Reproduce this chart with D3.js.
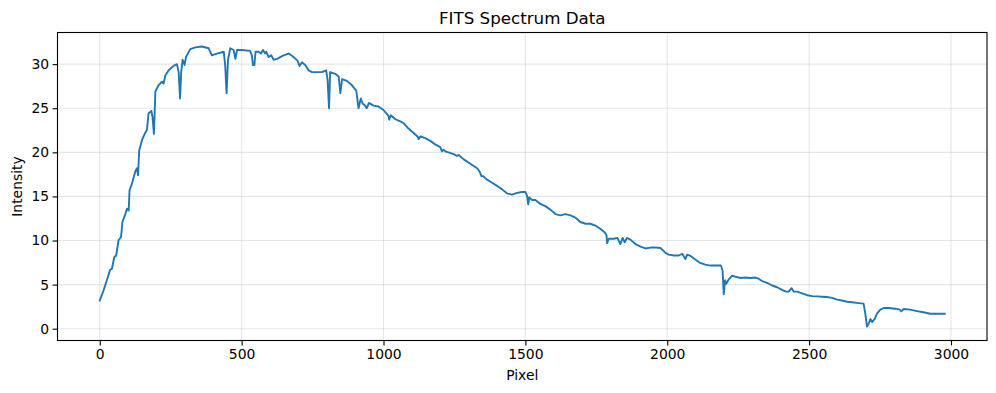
<!DOCTYPE html>
<html>
<head>
<meta charset="utf-8">
<script src="https://cdn.jsdelivr.net/npm/d3@7"></script>
<style>
  html, body { margin: 0; padding: 0; background: #fff; }
  text { font-family: 'DejaVu Sans', sans-serif; fill: #000; }
</style>
</head>
<body>
<div id="chart"></div>
<script>
// values
const pixels = [
  0, 13, 25, 37, 43, 51, 58, 66, 75, 80, 90, 96, 102, 105, 113, 125, 131, 135, 139, 149,
  160, 166, 172, 182, 186, 191, 196, 207, 219, 225, 231, 243, 260, 272, 278, 283, 287, 292, 299, 304,
  319, 337, 360, 384, 395, 413, 437, 442, 447, 452, 460, 472, 478, 484, 501, 530, 536, 540, 545, 549,
  560, 568, 575, 583, 587, 595, 604, 613, 625, 636, 648, 666, 683, 697, 704, 713, 724, 736, 748, 765,
  783, 798, 803, 808, 812, 830, 842, 848, 854, 871, 889, 904, 912, 920, 927, 935, 941, 949, 965, 982,
  1000, 1018, 1020, 1026, 1042, 1059, 1071, 1088, 1106, 1120, 1124, 1130, 1147, 1165, 1182, 1200, 1206, 1212, 1218, 1229,
  1247, 1259, 1265, 1283, 1306, 1330, 1339, 1345, 1351, 1365, 1383, 1400, 1418, 1435, 1453, 1471, 1488, 1500, 1506, 1510,
  1514, 1523, 1535, 1553, 1570, 1588, 1606, 1623, 1641, 1659, 1676, 1694, 1712, 1729, 1747, 1765, 1780, 1786, 1788, 1794,
  1812, 1824, 1835, 1843, 1850, 1858, 1870, 1888, 1906, 1923, 1941, 1959, 1976, 1994, 2005, 2023, 2041, 2053, 2064, 2070,
  2082, 2099, 2116, 2134, 2152, 2169, 2189, 2195, 2199, 2204, 2208, 2217, 2228, 2240, 2258, 2275, 2293, 2311, 2322, 2334,
  2352, 2370, 2387, 2405, 2419, 2428, 2438, 2446, 2458, 2475, 2493, 2511, 2528, 2546, 2563, 2581, 2599, 2616, 2634, 2651,
  2675, 2692, 2698, 2704, 2710, 2716, 2722, 2731, 2739, 2751, 2763, 2780, 2804, 2819, 2825, 2833, 2856, 2880, 2903, 2927,
  2950, 2978,
];
const intensity = [
  3.2, 4.3, 5.5, 6.7, 6.8, 8.1, 8.3, 10.0, 10.4, 12.1, 13.0, 13.6, 13.4, 15.7, 16.4, 17.8, 18.2, 17.4, 20.2, 21.4,
  22.2, 22.5, 24.4, 24.7, 24.0, 22.1, 26.9, 27.6, 28.0, 27.8, 28.7, 29.3, 29.8, 30.0, 29.1, 26.1, 29.1, 30.5, 29.9, 30.8,
  31.7, 31.9, 32.0, 31.8, 31.0, 31.2, 31.4, 29.9, 26.7, 30.5, 31.8, 31.6, 30.6, 31.6, 31.6, 31.5, 31.0, 29.9, 29.9, 31.4,
  31.4, 31.2, 31.6, 31.2, 31.4, 30.8, 31.0, 30.5, 30.6, 30.8, 31.0, 31.2, 30.8, 30.4, 29.8, 30.2, 29.9, 29.3, 29.1, 29.1,
  29.1, 29.3, 28.2, 25.0, 29.1, 28.9, 28.6, 26.7, 28.3, 28.1, 27.6, 27.0, 25.0, 26.1, 25.5, 25.3, 25.0, 25.6, 25.3, 25.2,
  24.8, 24.1, 23.7, 24.2, 23.75, 23.5, 23.3, 22.7, 22.2, 21.8, 21.5, 21.8, 21.6, 21.3, 20.9, 20.6, 20.1, 20.3, 20.1, 20.0,
  19.8, 19.6, 19.7, 19.2, 18.7, 18.2, 17.8, 17.3, 17.3, 16.9, 16.55, 16.2, 15.8, 15.35, 15.2, 15.4, 15.5, 15.5, 15.1, 14.1,
  14.9, 14.6, 14.6, 14.15, 13.9, 13.5, 13.0, 12.85, 13.0, 12.85, 12.6, 12.1, 11.9, 11.9, 11.7, 11.3, 10.9, 10.6, 9.7, 10.2,
  10.2, 10.3, 9.6, 10.3, 9.8, 10.3, 10.1, 9.6, 9.3, 9.1, 9.2, 9.2, 9.15, 8.6, 8.4, 8.3, 8.3, 8.5, 7.9, 8.4,
  8.25, 7.84, 7.46, 7.27, 7.16, 7.16, 7.16, 6.6, 3.9, 5.5, 5.1, 5.6, 6.0, 5.9, 5.75, 5.8, 5.75, 5.8, 5.67, 5.4,
  5.2, 4.9, 4.7, 4.4, 4.2, 4.2, 4.6, 4.2, 4.2, 4.0, 3.8, 3.7, 3.67, 3.63, 3.6, 3.5, 3.3, 3.2, 3.06, 3.0,
  2.9, 2.84, 1.7, 0.25, 0.57, 1.1, 0.75, 1.1, 1.7, 2.16, 2.35, 2.35, 2.27, 2.16, 1.97, 2.23, 2.16, 2.0, 1.86, 1.7,
  1.7, 1.7,
];
const xTicks = [0, 500, 1000, 1500, 2000, 2500, 3000];
const yTicks = [0, 5, 10, 15, 20, 25, 30];

const width = 996;
const height = 393;
const margin = { top: 32.5, right: 9, bottom: 52.5, left: 57.5 };
const innerW = width - margin.left - margin.right;
const innerH = height - margin.top - margin.bottom;

const points = pixels.map((p, i) => [p, intensity[i]]);

// matplotlib style 5% padding on both axes
const pad = (lo, hi) => [lo - (hi - lo) * 0.05, hi + (hi - lo) * 0.05];
const x = d3.scaleLinear().domain(pad(...d3.extent(pixels))).range([0, innerW]);
const y = d3.scaleLinear().domain(pad(...d3.extent(intensity))).range([innerH, 0]);

const svg = d3.select('#chart').append('svg').attr('width', width).attr('height', height);
const g = svg.append('g').attr('transform', `translate(${margin.left},${margin.top})`);

// grid
g.append('g')
  .selectAll('line')
  .data(xTicks)
  .join('line')
  .attr('x1', (d) => x(d))
  .attr('x2', (d) => x(d))
  .attr('y1', 0)
  .attr('y2', innerH)
  .attr('stroke', '#b0b0b0')
  .attr('stroke-opacity', 0.3)
  .attr('stroke-width', 1.1);

g.append('g')
  .selectAll('line')
  .data(yTicks)
  .join('line')
  .attr('x1', 0)
  .attr('x2', innerW)
  .attr('y1', (d) => y(d))
  .attr('y2', (d) => y(d))
  .attr('stroke', '#b0b0b0')
  .attr('stroke-opacity', 0.3)
  .attr('stroke-width', 1.1);

// spectrum
const line = d3
  .line()
  .x((d) => x(d[0]))
  .y((d) => y(d[1]));

g.append('path')
  .datum(points)
  .attr('d', line)
  .attr('fill', 'none')
  .attr('stroke', '#1f77b4')
  .attr('stroke-width', 1.9)
  .attr('stroke-linejoin', 'round')
  .attr('stroke-linecap', 'square');

// axes
const xAxis = g
  .append('g')
  .attr('transform', `translate(0,${innerH})`)
  .call(d3.axisBottom(x).tickValues(xTicks).tickFormat(d3.format('d')).tickSizeInner(4.9).tickSizeOuter(0).tickPadding(3.5));

const yAxis = g
  .append('g')
  .call(d3.axisLeft(y).tickValues(yTicks).tickFormat(d3.format('d')).tickSizeInner(4.9).tickSizeOuter(0).tickPadding(3.5));

[xAxis, yAxis].forEach((ax) => {
  ax.select('.domain').remove();
  ax.selectAll('.tick line').attr('stroke', '#000').attr('stroke-width', 1.1);
  ax.selectAll('.tick text').attr('font-size', 13.9).attr('font-family', 'DejaVu Sans').attr('fill', '#000');
});

// frame
g.append('rect')
  .attr('x', 0)
  .attr('y', 0)
  .attr('width', innerW)
  .attr('height', innerH)
  .attr('fill', 'none')
  .attr('stroke', '#000')
  .attr('stroke-width', 1.1);

// labels
svg.append('text')
  .attr('x', margin.left + innerW / 2)
  .attr('y', 23.5)
  .attr('text-anchor', 'middle')
  .attr('font-size', 16.7)
  .text('FITS Spectrum Data');

svg.append('text')
  .attr('x', margin.left + innerW / 2)
  .attr('y', 380)
  .attr('text-anchor', 'middle')
  .attr('font-size', 13.9)
  .text('Pixel');

svg.append('text')
  .attr('transform', `translate(21.5,${margin.top + innerH / 2}) rotate(-90)`)
  .attr('text-anchor', 'middle')
  .attr('font-size', 13.9)
  .text('Intensity');
</script>
</body>
</html>
